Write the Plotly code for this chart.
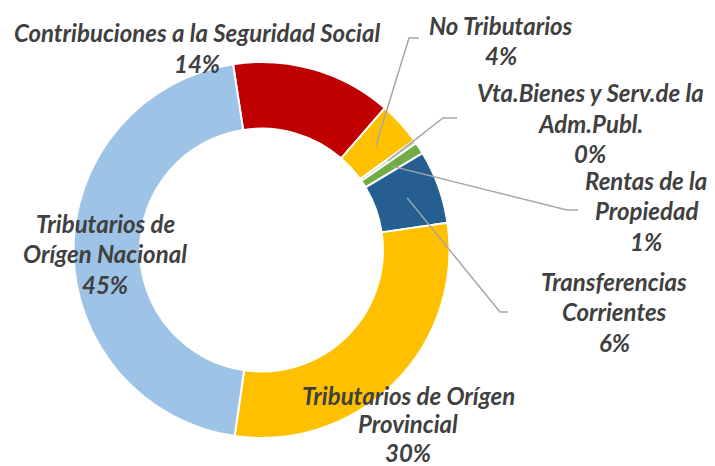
import math
import plotly.graph_objects as go

# ---- data ----
categories = ["Contribuciones a la Seguridad Social", "No Tributarios",
              "Vta.Bienes y Serv.de la Adm.Publ.", "Rentas de la Propiedad",
              "Transferencias Corrientes", "Tributarios de Orígen Provincial",
              "Tributarios de Orígen Nacional"]
values = [13.8, 3.7, 0.3, 1.0, 6.3, 29.6, 45.3]
colors = ["#C00000", "#FFC000", "#A9D18E", "#70AD47", "#255E91", "#FFC000", "#9DC3E6"]
label_lines = [["Contribuciones a la Seguridad Social"],
               ["No Tributarios"],
               ["Vta.Bienes y Serv.de la", "Adm.Publ."],
               ["Rentas de la", "Propiedad"],
               ["Transferencias", "Corrientes"],
               ["Tributarios de Orígen", "Provincial"],
               ["Tributarios de", "Orígen Nacional"]]

# ---- layout geometry (page pixels; the page body adds an 8px margin) ----
OFF = 8
W, H = 715 - OFF, 466 - OFF
CX, CY, R = 261.5, 250.0, 188.0
HOLE = 0.646
ROTATION = -8.7
label_pos = [(197, 33), (501, 25), (590, 93), (646, 180), (614, 281), (408, 395), (105, 223)]
line_h = [30.5, 30.5, 30.5, 30.5, 30.5, 28.5, 30.5]
# leader lines: (elbow, end) for slices that have one
leaders = {1: ((409, 38), (419, 38)),
           2: ((443, 118), (457, 118)),
           3: ((567, 210), (578, 210)),
           4: ((500, 312), (508, 312))}

def px(x):
    return (x - OFF) / W

def py(y):
    return 1 - (y - OFF) / H

fig = go.Figure(go.Pie(
    labels=categories, values=values, sort=False, direction="clockwise",
    rotation=ROTATION, hole=HOLE, textinfo="none", hoverinfo="label+percent",
    marker=dict(colors=colors, line=dict(color="white", width=2)),
    domain=dict(x=[px(CX - R), px(CX + R)], y=[py(CY + R), py(CY - R)]),
    showlegend=False,
))

total = sum(values)
annotations = []
font = dict(family="Lato", size=24, color="#404040", weight="bold", style="italic")
for i, lines in enumerate(label_lines):
    pct = f"{round(values[i] / total * 100)}%"
    x0, y0 = label_pos[i]
    for k, t in enumerate(lines + [pct]):
        annotations.append(dict(x=px(x0), y=py(y0 + k * line_h[i]), xref="paper", yref="paper",
                                text=t, showarrow=False, xanchor="center", yanchor="middle",
                                font=font))

shapes = []
cum = 0.0
rmid = R * (1 + HOLE) / 2
for i, v in enumerate(values):
    mid = ROTATION + (cum + v / 2) / total * 360
    cum += v
    if i in leaders:
        a = math.radians(mid)
        sx, sy = CX + rmid * math.sin(a), CY - rmid * math.cos(a)
        (ex, ey), (fx, fy) = leaders[i]
        path = f"M {px(sx)},{py(sy)} L {px(ex)},{py(ey)} L {px(fx)},{py(fy)}"
        shapes.append(dict(type="path", xref="paper", yref="paper", path=path,
                           line=dict(color="#A6A6A6", width=1.5)))

fig.update_layout(width=W, height=H, margin=dict(l=0, r=0, t=0, b=0),
                  paper_bgcolor="white", plot_bgcolor="white",
                  annotations=annotations, shapes=shapes)
fig.write_html("out.html")
